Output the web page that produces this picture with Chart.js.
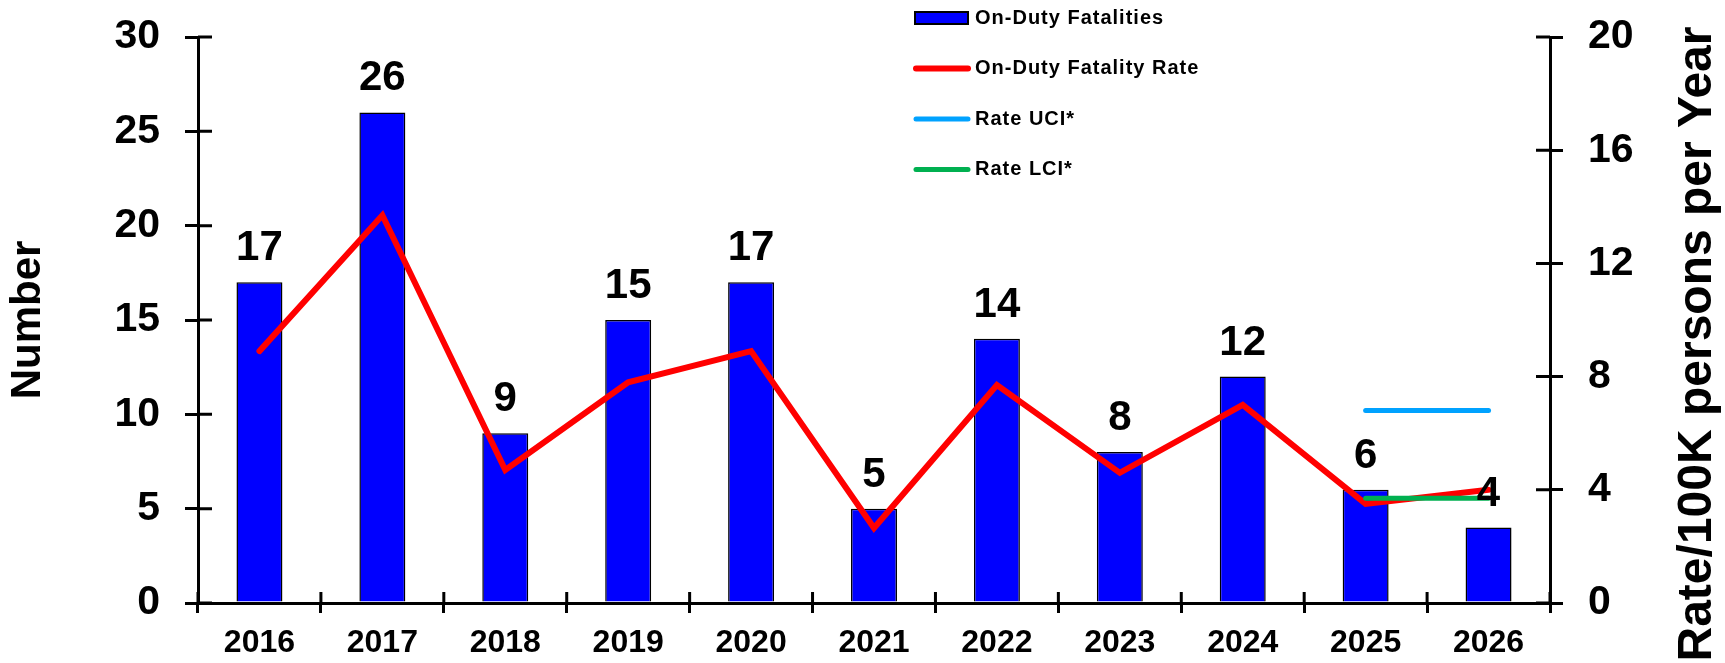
<!DOCTYPE html>
<html>
<head>
<meta charset="utf-8">
<script src="https://cdn.jsdelivr.net/npm/chart.js@4/dist/chart.umd.min.js"></script>
<style>
  body { margin: 0; background: #fff; }
  #wrap { width: 1725px; height: 663px; position: relative; }
</style>
</head>
<body>
<div id="wrap"><canvas id="dutyChart"></canvas></div>
<script>
const years        = ['2016','2017','2018','2019','2020','2021','2022','2023','2024','2025','2026'];
const fatalities   = [17, 26, 9, 15, 17, 5, 14, 8, 12, 6, 4];
const fatalityRate = [8.9, 13.7, 4.7, 7.8, 8.9, 2.65, 7.7, 4.6, 7.0, 3.5, 4.0];
const rateUCI      = [null, null, null, null, null, null, null, null, null, 6.8, 6.8];
const rateLCI      = [null, null, null, null, null, null, null, null, null, 3.7, 3.7];

const FONT = '"Liberation Sans", Arial, sans-serif';

// ticks in the original cross the axis line, so draw the inner half as well
const crossTicks = {
    id:'crossTicks',
    afterDraw(chart){
        const ctx = chart.ctx;
        const {x, y, y1} = chart.scales;
        ctx.save();
        ctx.strokeStyle = '#000';
        ctx.lineWidth = 3;
        ctx.beginPath();
        y.ticks.forEach(t=>{
            const py = y.getPixelForValue(t.value);
            ctx.moveTo(y.right, py); ctx.lineTo(y.right + 14, py);
        });
        y1.ticks.forEach(t=>{
            const py = y1.getPixelForValue(t.value);
            ctx.moveTo(y1.left, py); ctx.lineTo(y1.left - 14, py);
        });
        for(let i=0;i<=years.length;i++){
            const px = x.getPixelForValue(i - 0.5);
            ctx.moveTo(px, x.top); ctx.lineTo(px, x.top - 11);
        }
        ctx.stroke();
        ctx.restore();
    }
};

const barLabels = {
    id:'barLabels',
    afterDatasetsDraw(chart){
        const ctx = chart.ctx;
        const meta = chart.getDatasetMeta(0);
        ctx.save();
        ctx.font = 'bold 42px ' + FONT;
        ctx.fillStyle = '#000';
        ctx.textAlign = 'center';
        ctx.textBaseline = 'alphabetic';
        meta.data.forEach((bar,i)=>{
            ctx.fillText(String(fatalities[i]), bar.x, bar.y - 22);
        });
        ctx.restore();
    }
};

const rightTitle = {
    id:'rightTitle',
    afterDraw(chart){
        const ctx = chart.ctx;
        ctx.save();
        ctx.translate(1698, 344);
        ctx.rotate(-Math.PI/2);
        ctx.font = 'bold 48px ' + FONT;
        ctx.fillStyle = '#000';
        ctx.textAlign = 'center';
        ctx.textBaseline = 'middle';
        ctx.fillText('Rate/100K persons per Year', 0, 0);
        ctx.restore();
    }
};

const sideLegend = {
    id:'sideLegend',
    afterDraw(chart){
        const ctx = chart.ctx;
        ctx.save();
        ctx.font = 'bold 20px ' + FONT;
        ctx.letterSpacing = '1px';
        ctx.textBaseline = 'middle';
        ctx.fillStyle = '#000';
        chart.data.datasets.forEach((ds,i)=>{
            const cy = 18 + i*50.5;
            if(ds.type === 'bar'){
                ctx.fillStyle = ds.backgroundColor;
                ctx.fillRect(915, cy - 6, 53, 12);
                ctx.strokeStyle = '#000';
                ctx.lineWidth = 2;
                ctx.strokeRect(915, cy - 6, 53, 12);
            } else {
                ctx.strokeStyle = ds.borderColor;
                ctx.lineWidth = ds.borderWidth;
                ctx.lineCap = 'round';
                ctx.beginPath();
                ctx.moveTo(916, cy); ctx.lineTo(968, cy);
                ctx.stroke();
            }
            ctx.fillStyle = '#000';
            ctx.fillText(ds.label, 975, cy);
        });
        ctx.restore();
    }
};

const axisGrid = {display:true, drawOnChartArea:false, drawTicks:true, color:'#000', lineWidth:3};

// fixed axis widths; drop the label overhang so layout padding sets the plot top
const fixWidth = w => s => { s.width = w; s.paddingTop = 0; s.paddingBottom = 0; };

new Chart(document.getElementById('dutyChart').getContext('2d'),{
    data:{
        labels:years,
        datasets:[
            {type:'bar', label:'On-Duty Fatalities', data:fatalities, yAxisID:'y', order:4,
             backgroundColor:'#0000FF', borderColor:'#000', borderWidth:1.5,
             barPercentage:0.374, categoryPercentage:1},
            {type:'line', label:'On-Duty Fatality Rate', data:fatalityRate, yAxisID:'y1', order:3,
             borderColor:'#FF0000', borderWidth:6, pointRadius:0, tension:0,
             borderCapStyle:'round', borderJoinStyle:'miter'},
            {type:'line', label:'Rate UCI*', data:rateUCI, yAxisID:'y1', order:2,
             borderColor:'#00A2FF', borderWidth:5, pointRadius:0, borderCapStyle:'round'},
            {type:'line', label:'Rate LCI*', data:rateLCI, yAxisID:'y1', order:1,
             borderColor:'#00B050', borderWidth:5, pointRadius:0, borderCapStyle:'round'}
        ]
    },
    options:{
        responsive:true, maintainAspectRatio:false, animation:false,
        layout:{padding:{top:37, left:0, right:0, bottom:0}},
        plugins:{legend:{display:false}, tooltip:{enabled:false}},
        scales:{
            x:{
                offset:true,
                grid:{...axisGrid, offset:true, tickLength:10},
                border:{color:'#000', width:3},
                ticks:{color:'#000', font:{family:FONT, size:32, weight:'bold'}, padding:11},
                afterFit:s=>{ s.height = 60; }
            },
            y:{
                position:'left', min:0, max:30,
                grid:{...axisGrid, tickLength:13},
                border:{color:'#000', width:3},
                ticks:{stepSize:5, color:'#000', font:{family:FONT, size:41, weight:'bold'}, padding:25},
                title:{display:true, text:'Number', color:'#000',
                       font:{family:FONT, size:42, weight:'bold'}, padding:{top:3, bottom:0}},
                afterFit:fixWidth(198)
            },
            y1:{
                position:'right', min:0, max:20,
                grid:{...axisGrid, tickLength:13},
                border:{color:'#000', width:3},
                ticks:{stepSize:4, color:'#000', font:{family:FONT, size:41, weight:'bold'}, padding:25},
                afterFit:fixWidth(175)
            }
        }
    },
    plugins:[crossTicks, barLabels, rightTitle, sideLegend]
});
</script>
</body>
</html>
